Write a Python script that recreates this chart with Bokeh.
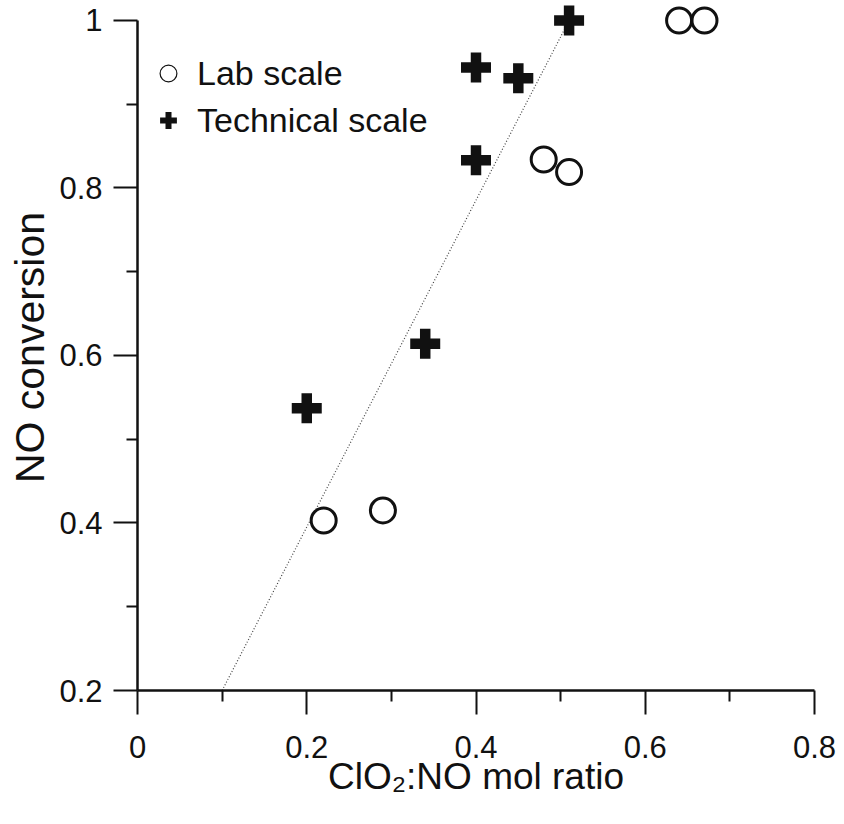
from bokeh.plotting import figure
from bokeh.models import FixedTicker, CustomJSTickFormatter, Legend, LegendItem, Range1d
from bokeh.embed import file_html
from bokeh.resources import INLINE

# ---- data ----
lab_x = [0.22, 0.29, 0.48, 0.51, 0.64, 0.67]
lab_y = [0.403, 0.415, 0.834, 0.819, 1.0, 1.0]
tech_x = [0.20, 0.34, 0.40, 0.40, 0.45, 0.51]
tech_y = [0.537, 0.614, 0.833, 0.944, 0.931, 1.0]
fit_x = [0.1, 0.51]
fit_y = [0.2, 1.0]
x_ticks = [0, 0.2, 0.4, 0.6, 0.8]
x_minor = [0.1, 0.3, 0.5, 0.7]
y_ticks = [0.2, 0.4, 0.6, 0.8, 1.0]
y_minor = [0.3, 0.5, 0.7, 0.9]

FONT = "Liberation Sans"
INK = "#111111"

p = figure(width=836, height=808, output_backend="svg", toolbar_location=None,
           x_range=Range1d(0, 0.8), y_range=Range1d(0.2, 1.0191),
           min_border_left=137, min_border_right=22, min_border_top=4,
           min_border_bottom=118)
p.outline_line_color = None
p.grid.visible = False
p.background_fill_color = "white"
p.border_fill_color = "white"

fmt = CustomJSTickFormatter(code="return String(Math.round(tick*10)/10);")

for ax, ticks, minor in ((p.xaxis[0], x_ticks, x_minor), (p.yaxis[0], y_ticks, y_minor)):
    ax.ticker = FixedTicker(ticks=ticks, minor_ticks=minor)
    ax.formatter = fmt
    ax.axis_line_color = INK
    ax.axis_line_width = 2.5
    ax.major_tick_line_color = INK
    ax.major_tick_line_width = 2
    ax.minor_tick_line_color = INK
    ax.minor_tick_line_width = 2
    ax.major_tick_in = 0
    ax.major_tick_out = 24
    ax.minor_tick_in = 0
    ax.minor_tick_out = 11
    ax.major_label_text_font = FONT
    ax.major_label_text_font_size = "31px"
    ax.major_label_text_color = INK
    ax.axis_label_text_font = FONT
    ax.axis_label_text_font_style = "normal"
    ax.axis_label_text_color = INK

p.yaxis.bounds = (0.2, 1.0)
p.xaxis.axis_label = "ClO\u2082:NO mol ratio"
p.yaxis.axis_label = "NO conversion"
p.xaxis.axis_label_text_font_size = "37px"
p.yaxis.axis_label_text_font_size = "41px"
p.xaxis.major_label_standoff = 21
p.yaxis.major_label_standoff = 11
p.xaxis.axis_label_standoff = -5
p.yaxis.axis_label_standoff = 3

p.line(fit_x, fit_y, line_color="#444444", line_width=1.2, line_dash="1 2")

p.scatter(lab_x, lab_y, marker="circle", size=25, fill_color=None,
          line_color=INK, line_width=3)
p.scatter(tech_x, tech_y, marker="cross", size=30, line_color=INK, line_width=10.5)

# legend proxies (hidden renderers, thinner legend symbols)
leg_lab = p.scatter(lab_x, lab_y, marker="circle", fill_color=None,
                    line_color=INK, line_width=1.2, visible=False)
leg_tech = p.scatter(tech_x, tech_y, marker="cross", line_color=INK,
                     line_width=6, visible=False)

legend = Legend(items=[LegendItem(label="Lab scale", renderers=[leg_lab]),
                       LegendItem(label="Technical scale", renderers=[leg_tech])],
                location=(10, 549), padding=5, spacing=5,
                glyph_width=42, glyph_height=42, label_height=42,
                label_standoff=8, label_text_font=FONT,
                label_text_font_size="34px", label_text_color=INK,
                border_line_color=None, background_fill_alpha=0)
p.add_layout(legend)

open("out.html", "w").write(file_html(p, INLINE))
